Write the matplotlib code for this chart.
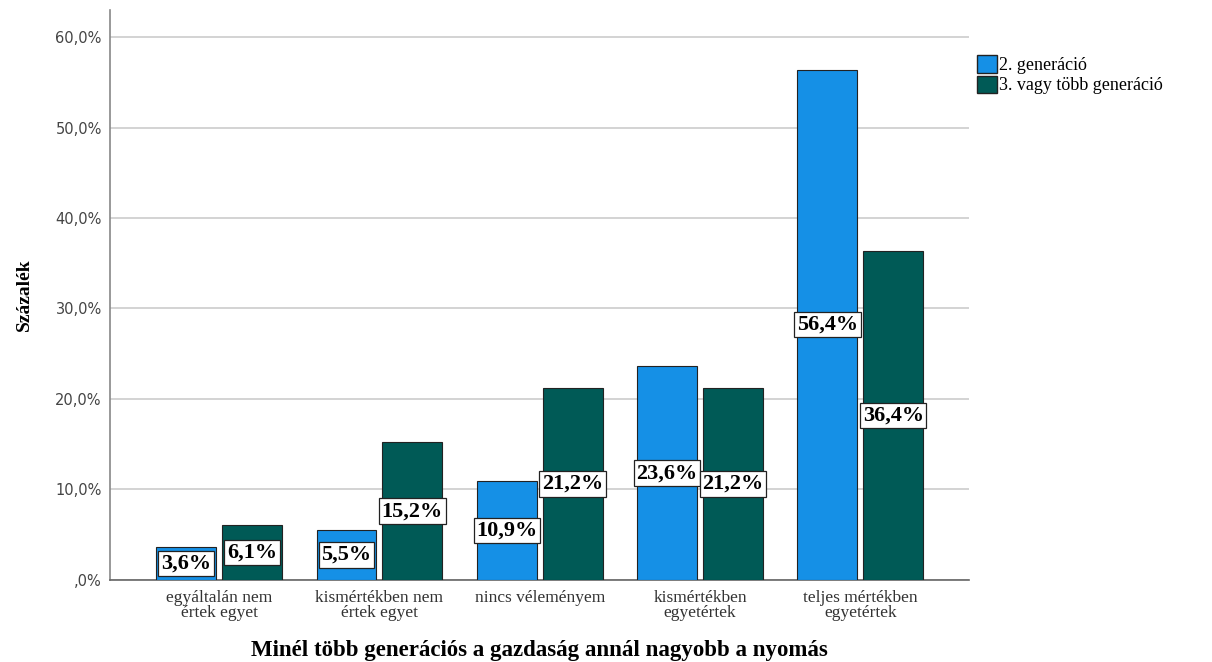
import numpy as np
import matplotlib.pyplot as plt
from matplotlib.patches import Patch

categories = ["egyáltalán nem\nértek egyet", "kismértékben nem\nértek egyet",
              "nincs véleményem", "kismértékben\negyetértek",
              "teljes mértékben\negyetértek"]
gen2 = [3.6, 5.5, 10.9, 23.6, 56.4]
gen3 = [6.1, 15.2, 21.2, 21.2, 36.4]
series_names = ["2. generáció", "3. vagy több generáció"]
yticks = [0, 10, 20, 30, 40, 50, 60]

blue = "#1590E6"
green = "#005A56"
serif = ["Liberation Serif", "DejaVu Serif"]

fig = plt.figure(figsize=(12.12, 6.62), dpi=100)
ax = fig.add_axes([0.0908, 0.124, 0.709, 0.861])

x = np.arange(len(categories))
w = 0.374
off = 0.205
ax.bar(x - off, gen2, w, color=blue, edgecolor="#222222", linewidth=0.8, zorder=3)
ax.bar(x + off, gen3, w, color=green, edgecolor="#222222", linewidth=0.8, zorder=3)


def label(xs, vals):
    for xi, v in zip(xs, vals):
        y = max(v / 2, 1.55)
        ax.text(xi, y, f"{v:.1f}%".replace(".", ","), ha="center", va="center",
                fontsize=16, fontweight="bold", family=serif, zorder=5,
                bbox=dict(boxstyle="square,pad=0.12", fc="white", ec="#222222", lw=0.9))


label(x - off, gen2)
label(x + off, gen3)

ax.set_xlim(-0.68, 4.68)
ax.set_ylim(0, 63)
ax.set_yticks(yticks)
ax.set_yticklabels([(f"{t:.1f}%".replace(".", ",") if t else ",0%") for t in yticks],
                   fontsize=10.5, color="#444444")
ax.set_xticks(x)
ax.set_xticklabels(categories, fontsize=12.5, family=serif, color="#333333",
                   linespacing=0.92)
ax.tick_params(axis="both", length=0, pad=7)
ax.tick_params(axis="y", pad=6)
ax.grid(axis="y", color="#d0d0d0", linewidth=1.3, zorder=0)
for s in ["top", "right"]:
    ax.spines[s].set_visible(False)
ax.spines["left"].set_color("#888888")
ax.spines["bottom"].set_color("#666666")
ax.spines["left"].set_linewidth(1.2)
ax.spines["bottom"].set_linewidth(1.2)

ax.set_ylabel("Százalék", fontsize=14, fontweight="bold", family=serif, labelpad=16)
ax.set_xlabel("Minél több generációs a gazdaság annál nagyobb a nyomás",
              fontsize=16.5, fontweight="bold", family=serif, labelpad=14)

handles = [Patch(facecolor=blue, edgecolor="#222222"), Patch(facecolor=green, edgecolor="#222222")]
fig.legend(handles, series_names, loc="upper left", bbox_to_anchor=(0.799, 0.93),
           frameon=False, prop={"family": serif, "size": 13}, handlelength=1.1,
           handleheight=1.1, handletextpad=0.1, labelspacing=0.08, borderpad=0)

fig.savefig("out.png", dpi=100)
